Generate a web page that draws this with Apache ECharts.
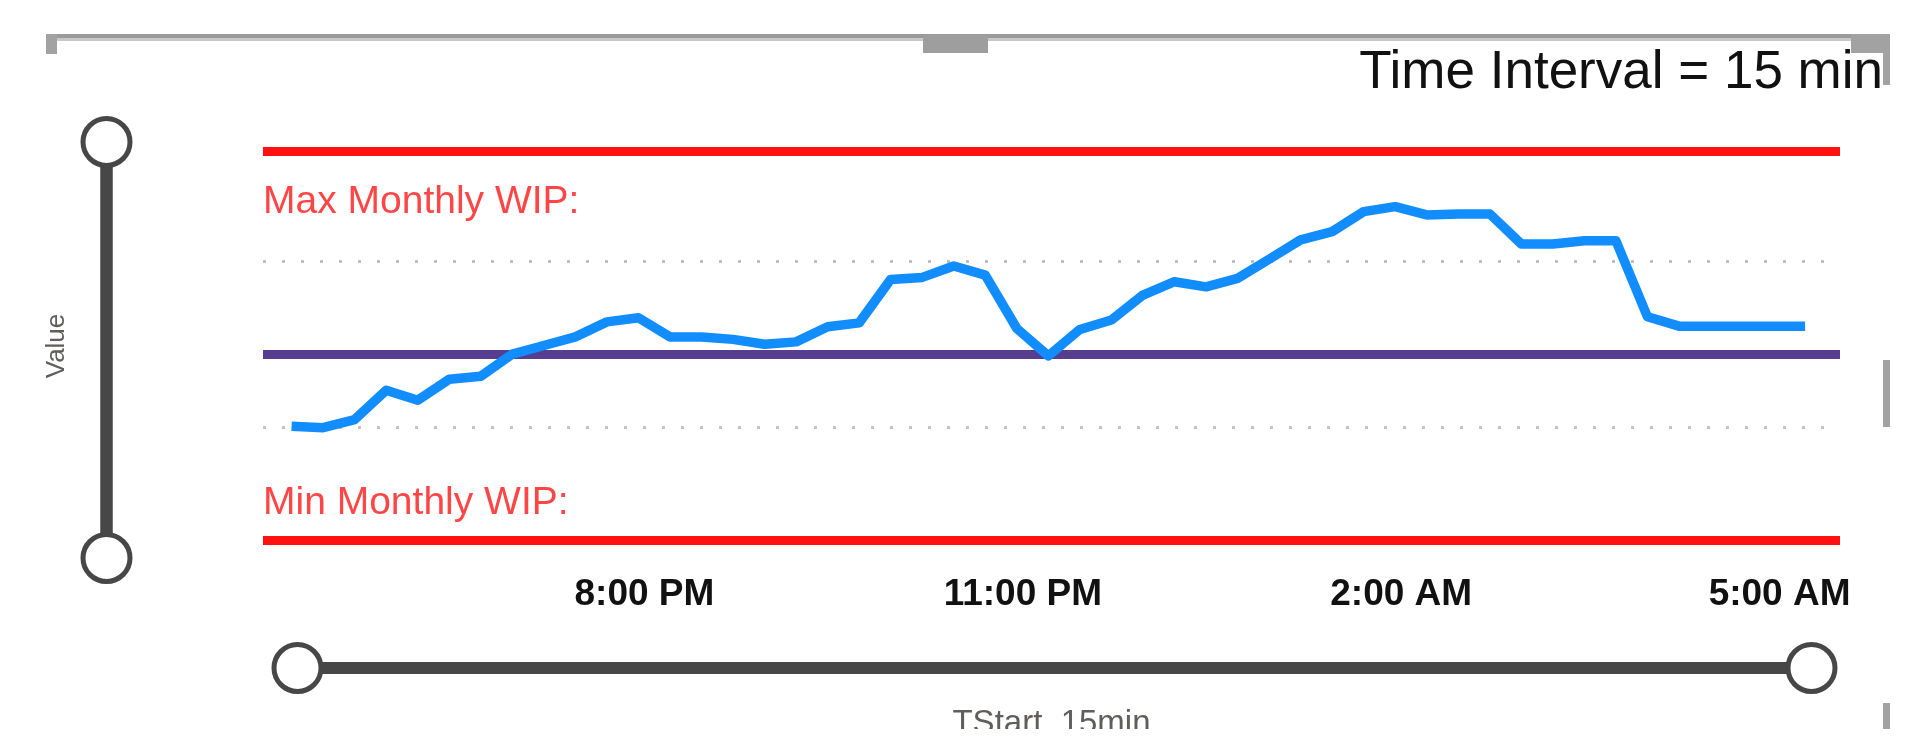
<!DOCTYPE html>
<html>
<head>
<meta charset="utf-8">
<script src="https://cdn.jsdelivr.net/npm/echarts@6/dist/echarts.min.js"></script>
<style>
html,body{margin:0;padding:0;background:#fff;}
#c{width:1926px;height:750px;}
</style>
</head>
<body>
<div id="c"></div>
<script>
// ---- data ----
const times = [
  '17:15','17:30','17:45','18:00','18:15','18:30','18:45','19:00','19:15','19:30','19:45','20:00',
  '20:15','20:30','20:45','21:00','21:15','21:30','21:45','22:00','22:15','22:30','22:45','23:00',
  '23:15','23:30','23:45','00:00','00:15','00:30','00:45','01:00','01:15','01:30','01:45','02:00',
  '02:15','02:30','02:45','03:00','03:15','03:30','03:45','04:00','04:15','04:30','04:45','05:00','05:15'
];
const wipValues = [
  100.4, 99.6, 104.5, 122.2, 116.2, 128.9, 130.7, 144.1, 149.3, 154.5, 163.6, 166.1,
  154.5, 154.5, 153.0, 150.1, 151.5, 160.6, 163.0, 189.3, 190.5, 197.4, 191.9, 159.6,
  143.0, 159.0, 164.7, 179.8, 187.9, 184.8, 189.9, 201.5, 213.2, 218.2, 230.3, 233.3,
  228.3, 228.9, 228.9, 210.7, 210.7, 212.7, 212.7, 166.7, 161.0, 161.0, 161.0, 161.0, 161.0
];
const tickTimes = ['20:00', '23:00', '02:00', '05:00'];
const gridValues = [100, 200];
const maxMonthlyWip = 267;
const minMonthlyWip = 31.5;
const avgWip = 144;
const maxLabel = 'Max Monthly WIP:';
const minLabel = 'Min Monthly WIP:';
const titleText = 'Time Interval = 15 min';
const xName = 'TStart_15min';
const yName = 'Value';

// ---- helpers ----
function toMinutes(t) {
  const p = t.split(':').map(Number);
  let v = p[0] * 60 + p[1];
  if (p[0] < 12) v += 1440;
  return v;
}
function fmt(v) {
  const h24 = Math.floor(v / 60) % 24;
  const m = Math.round(v % 60);
  const ap = h24 >= 12 ? 'PM' : 'AM';
  let h = h24 % 12; if (h === 0) h = 12;
  return h + ':' + (m < 10 ? '0' + m : m) + ' ' + ap;
}
const seriesData = times.map((t, i) => [toMinutes(t), wipValues[i]]);
const xMin = toMinutes(times[0]) - 13.6;
const xMax = toMinutes(times[times.length - 1]) + 16.6;

const FONT = 'Liberation Sans';
const SL = '#474747';
const noBg = { lineStyle: { opacity: 0 }, areaStyle: { opacity: 0 } };
const sliderCommon = {
  type: 'slider', filterMode: 'none', start: 0, end: 100,
  backgroundColor: SL, borderColor: 'transparent', fillerColor: SL,
  showDataShadow: false, showDetail: false, brushSelect: false, moveHandleSize: 0,
  handleIcon: 'circle', handleSize: 47,
  handleStyle: { color: '#fff', borderColor: SL, borderWidth: 5 },
  emphasis: { handleStyle: { color: '#fff', borderColor: SL, borderWidth: 5 } },
  dataBackground: noBg, selectedDataBackground: noBg,
  realtime: false, zoomLock: true
};

const chart = echarts.init(document.getElementById('c'), null, { renderer: 'canvas' });
chart.setOption({
  animation: false,
  backgroundColor: '#fff',
  title: {
    text: titleText, right: 43, top: 47, padding: 0,
    textStyle: { fontFamily: FONT, fontSize: 53, fontWeight: 'normal', color: '#111' }
  },
  grid: { left: 263, right: 86, top: 146, height: 400 },
  xAxis: {
    type: 'value', min: xMin, max: xMax,
    name: xName, nameLocation: 'middle', nameGap: 161,
    nameTextStyle: { fontFamily: FONT, fontSize: 33, color: '#605e5c' },
    axisLine: { show: false }, axisTick: { show: false }, splitLine: { show: false },
    axisLabel: {
      customValues: tickTimes.map(toMinutes),
      formatter: v => fmt(v),
      margin: 30, padding: [0, 0, 0, 12],
      fontFamily: FONT, fontSize: 37, fontWeight: 'bold', color: '#111'
    }
  },
  yAxis: {
    type: 'value', min: 28, max: 270,
    name: yName, nameLocation: 'middle', nameRotate: 90, nameGap: 193,
    nameTextStyle: { fontFamily: FONT, fontSize: 26, color: '#605e5c' },
    axisLine: { show: false }, axisTick: { show: false },
    axisLabel: { show: false }, splitLine: { show: false }
  },
  dataZoom: [
    Object.assign({}, sliderCommon, { xAxisIndex: 0, orient: 'horizontal', left: 293, width: 1516, top: 662, height: 12 }),
    Object.assign({}, sliderCommon, { yAxisIndex: 0, orient: 'vertical', left: 98, width: 12, top: 141, height: 418 })
  ],
  series: [{
    type: 'line', z: 3,
    data: seriesData,
    symbol: 'none',
    lineStyle: { color: '#118DFF', width: 9.5, join: 'round', cap: 'butt' },
    silent: true,
    markLine: {
      z: 1, silent: true, symbol: 'none', animation: false,
      data: [
        { yAxis: gridValues[0], lineStyle: { color: '#c4c4c4', width: 3, type: [3, 16] }, label: { show: false } },
        { yAxis: gridValues[1], lineStyle: { color: '#b4b4b4', width: 2.5, type: [3, 16] }, label: { show: false } },
        { yAxis: avgWip, lineStyle: { color: '#573d8f', width: 9, type: 'solid' }, label: { show: false } },
        { yAxis: maxMonthlyWip, name: maxLabel,
          lineStyle: { color: '#ff1111', width: 9, type: 'solid' },
          label: { show: true, formatter: '{b}', position: 'insideStartBottom', distance: [0, 32],
                   fontFamily: FONT, fontSize: 39, color: '#ff4545' } },
        { yAxis: minMonthlyWip, name: minLabel,
          lineStyle: { color: '#ff1111', width: 9, type: 'solid' },
          label: { show: true, formatter: '{b}', position: 'insideStartTop', distance: [0, 17],
                   fontFamily: FONT, fontSize: 39, color: '#ff4545' } }
      ]
    }
  }],
  graphic: [
    { type: 'rect', silent: true, shape: { x: 46, y: 34, width: 1844, height: 4 }, style: { fill: '#9a9a9a' } },
    { type: 'rect', silent: true, shape: { x: 46, y: 38, width: 1844, height: 3 }, style: { fill: '#c8c8c8' } },
    { type: 'rect', silent: true, shape: { x: 46, y: 34, width: 11, height: 20 }, style: { fill: '#a2a2a2' } },
    { type: 'rect', silent: true, shape: { x: 923, y: 35, width: 65, height: 18 }, style: { fill: '#9e9e9e' } },
    { type: 'rect', silent: true, shape: { x: 1851, y: 34, width: 39, height: 19 }, style: { fill: '#a2a2a2' } },
    { type: 'rect', silent: true, shape: { x: 1883, y: 53, width: 7, height: 32 }, style: { fill: '#a2a2a2' } },
    { type: 'rect', silent: true, shape: { x: 1883, y: 360, width: 7, height: 67 }, style: { fill: '#a2a2a2' } },
    { type: 'rect', silent: true, shape: { x: 1883, y: 703, width: 7, height: 26 }, style: { fill: '#a2a2a2' } },
    { type: 'rect', silent: true, z: 100, shape: { x: 880, y: 729, width: 400, height: 21 }, style: { fill: '#fff' } }
  ]
});
</script>
</body>
</html>
